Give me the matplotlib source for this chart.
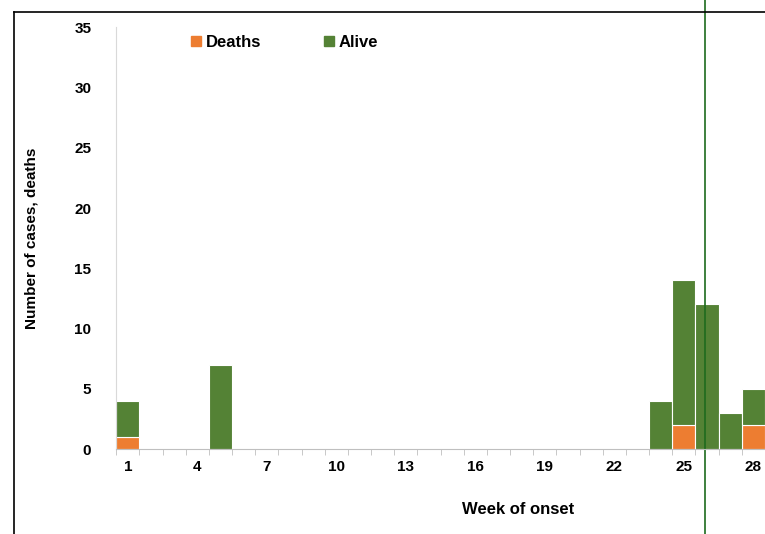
import matplotlib.pyplot as plt
from matplotlib.lines import Line2D

plt.rcParams['font.family'] = ['Liberation Sans', 'DejaVu Sans']

weeks = list(range(1, 29))
deaths = [0] * 28
alive = [0] * 28
deaths[0] = 1; alive[0] = 3
alive[4] = 7
alive[23] = 4
deaths[24] = 2; alive[24] = 12
alive[25] = 12
alive[26] = 3
deaths[27] = 2; alive[27] = 3
marker_week = 25.9

orange = '#ED7D31'
green = '#548235'

fig = plt.figure(figsize=(7.65, 5.34), dpi=100)
ax = fig.add_axes([0.152, 0.159, 0.848, 0.790])
ax.bar(weeks, deaths, width=1.0, color=orange, edgecolor='white', linewidth=0.8)
ax.bar(weeks, alive, width=1.0, bottom=deaths, color=green, edgecolor='white', linewidth=0.8)
ax.axvline(marker_week, color='#1E6B1E', lw=1.2, clip_on=False, ymin=-0.3, ymax=1.1)

ax.set_xlim(0.5, 28.3)
ax.set_ylim(0, 35)
ax.set_yticks(range(0, 36, 5))
ax.set_xticks(range(1, 29, 3))
ax.set_xticks([w + 0.5 for w in range(0, 29)], minor=True)
ax.tick_params(axis='x', which='major', length=0, labelsize=11, pad=8)
ax.tick_params(axis='x', which='minor', length=4, color='#BFBFBF')
ax.tick_params(axis='y', length=0, labelsize=11, pad=18)
for t in ax.get_xticklabels() + ax.get_yticklabels():
    t.set_fontweight('bold')
for s in ['top', 'right']:
    ax.spines[s].set_visible(False)
ax.spines['left'].set_color('#D9D9D9')
ax.spines['bottom'].set_color('#BFBFBF')
ax.set_xlabel('Week of onset', fontsize=12, fontweight='bold')
ax.xaxis.set_label_coords(0.62, -0.125)
ax.set_ylabel('Number of cases, deaths', fontsize=11, fontweight='bold')
ax.yaxis.set_label_coords(-0.12, 0.5)

handles = [Line2D([], [], marker='s', ls='', color=orange, markersize=7),
           Line2D([], [], marker='s', ls='', color=green, markersize=7)]
fig.legend(handles, ['Deaths', 'Alive'], loc='center left', bbox_to_anchor=(0.22, 0.921),
           ncol=2, frameon=False, handletextpad=-0.15, handlelength=1.5, columnspacing=3.3,
           prop={'weight': 'bold', 'size': 12})

fig.add_artist(Line2D([14 / 765, 1], [1 - 12 / 534] * 2, color='black', lw=1.2))
fig.add_artist(Line2D([14 / 765] * 2, [0, 1 - 12 / 534], color='black', lw=1.2))

fig.savefig('out.png', dpi=100)
